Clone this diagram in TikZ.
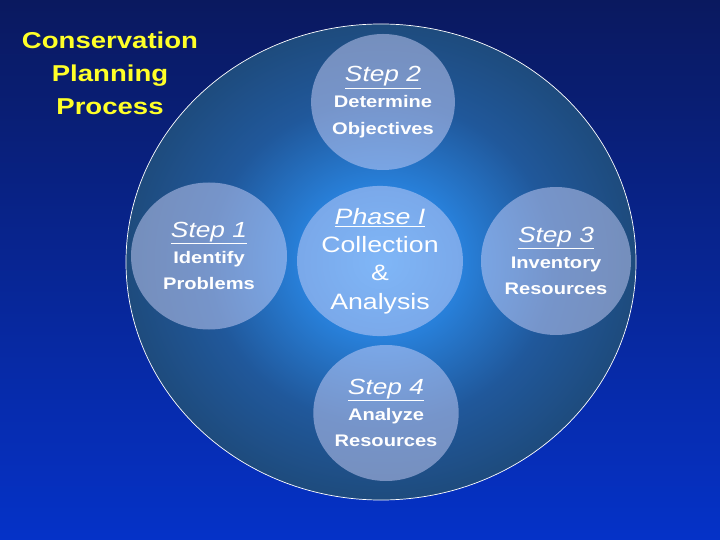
\documentclass[tikz,border=0pt]{standalone}
\usepackage{fontspec}
\setmainfont{Liberation Sans}
\usepackage{xcolor}
\usepackage{tikz}
\usetikzlibrary{shapes.geometric}

\definecolor{bgtop}{RGB}{10,25,95}
\definecolor{bgbottom}{RGB}{5,50,200}
\definecolor{glowmid}{RGB}{50,155,245}
\definecolor{glowhalf}{RGB}{40,128,218}
\definecolor{glowouter}{RGB}{32,88,155}
\definecolor{glowedge}{RGB}{30,75,125}
\definecolor{stepfill}{RGB}{205,210,250}
\definecolor{titleyellow}{RGB}{255,255,40}

\pgfdeclareradialshading{planglow}{\pgfpoint{0bp}{0bp}}{%
  color(0bp)=(glowmid); color(8bp)=(glowhalf); color(17bp)=(glowouter);
  color(25bp)=(glowedge); color(50bp)=(glowedge)}

\newcommand{\steptitle}[1]{{\fontsize{18.7}{22}\selectfont\mdseries\itshape\underline{#1}}}

\begin{document}
\begin{tikzpicture}[
    x=0.03cm, y=-0.03cm,
    stepnode/.style={ellipse, fill=stepfill, fill opacity=0.5, text opacity=1, text=white,
        inner sep=0pt, align=center, xscale=1.2, font=\fontsize{14.3}{22.5}\selectfont\bfseries},
    phasenode/.style={stepnode, font=\fontsize{19}{24.3}\selectfont},
    bigoval/.style={ellipse, draw=white, line width=0.6pt, shading=planglow,
        minimum width=15.3cm, minimum height=14.28cm, inner sep=0pt},
    title/.style={text=titleyellow, align=center, xscale=1.2,
        font=\fontsize{19.6}{28}\selectfont\bfseries},
]
    % Background
    \useasboundingbox (0,0) rectangle (720,540);
    \shade[top color=bgtop, bottom color=bgbottom] (0,0) rectangle (720,540);

    % Title
    \node[title] (title) at (110,73) {Conservation\\Planning\\Process};

    % Outer oval
    \node[bigoval] (plan) at (381,262) {};

    % Phase I
    \node[phasenode, minimum width=3.875cm, minimum height=4.44cm] (phase) at (380,261)
        {\underline{\itshape Phase I}\\Collection\\\&\\Analysis};

    % Steps round the phase
    \node[stepnode, minimum width=3.9cm, minimum height=4.41cm] (step1) at (209,256)
        {\steptitle{Step 1}\\Identify\\Problems};
    \node[stepnode, minimum width=3.425cm, minimum height=4.08cm] (step2) at (383,102)
        {\steptitle{Step 2}\\Determine\\Objectives};
    \node[stepnode, minimum width=3.75cm, minimum height=4.44cm] (step3) at (556,261)
        {\steptitle{Step 3}\\Inventory\\Resources};
    \node[stepnode, minimum width=3.6cm, minimum height=4.08cm] (step4) at (386,413)
        {\steptitle{Step 4}\\Analyze\\Resources};

\end{tikzpicture}
\end{document}
